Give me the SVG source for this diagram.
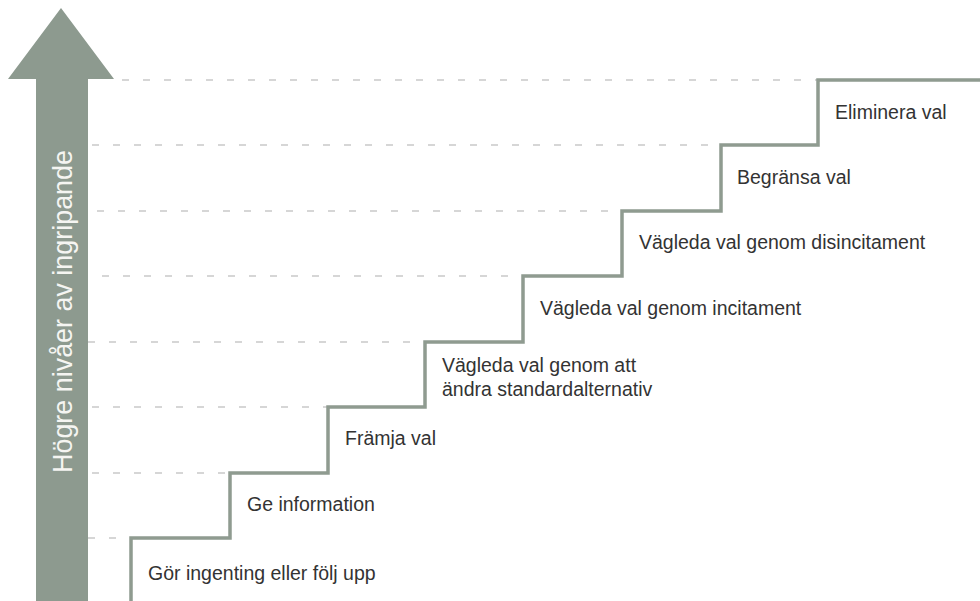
<svg xmlns="http://www.w3.org/2000/svg" width="980" height="601" viewBox="0 0 980 601">
  <style>
    .lbl { font-family: "Liberation Sans", Arial, sans-serif; font-size: 19.5px; fill: #333333; }
    .axis { font-family: "Liberation Sans", Arial, sans-serif; font-size: 27px; fill: #f5f5f2; }
    .dash { stroke: #c9c9c9; stroke-width: 1.5; stroke-dasharray: 7 14; fill: none; }
    .stair { stroke: #8f9b90; stroke-width: 3.5; fill: none; stroke-linejoin: miter; }
  </style>
  <rect width="980" height="601" fill="#ffffff"/>
  <g id="connectors">
    <line class="dash" x1="88" y1="538" x2="131" y2="538"/>
    <line class="dash" x1="92" y1="473" x2="230" y2="473"/>
    <line class="dash" x1="92" y1="407" x2="328" y2="407"/>
    <line class="dash" x1="88" y1="342" x2="425" y2="342"/>
    <line class="dash" x1="102" y1="276" x2="523" y2="276"/>
    <line class="dash" x1="97" y1="211" x2="622" y2="211"/>
    <line class="dash" x1="92" y1="145" x2="721" y2="145"/>
    <line class="dash" x1="122" y1="80" x2="818" y2="80"/>
    <polyline class="stair" points="131,601 131,538 230,538 230,473 328,473 328,407 425,407 425,342 523,342 523,276 622,276 622,211 721,211 721,145 818,145 818,80 980,80"/>
  </g>
  <g id="arrow">
    <polygon points="61,8 114,79 88,79 88,601 36,601 36,79 8,79" fill="#8d9a8f"/>
    <text class="axis" transform="translate(72,311.5) rotate(-90)" text-anchor="middle" textLength="323" lengthAdjust="spacingAndGlyphs">Högre nivåer av ingripande</text>
  </g>
  <g id="step1"><text class="lbl" x="148" y="580">Gör ingenting eller följ upp</text></g>
  <g id="step2"><text class="lbl" x="247" y="511">Ge information</text></g>
  <g id="step3"><text class="lbl" x="345" y="445">Främja val</text></g>
  <g id="step4"><text class="lbl" x="442" y="372">Vägleda val genom att</text><text class="lbl" x="442" y="396">ändra standardalternativ</text></g>
  <g id="step5"><text class="lbl" x="540" y="315">Vägleda val genom incitament</text></g>
  <g id="step6"><text class="lbl" x="639" y="249">Vägleda val genom disincitament</text></g>
  <g id="step7"><text class="lbl" x="737" y="184">Begränsa val</text></g>
  <g id="step8"><text class="lbl" x="835" y="119">Eliminera val</text></g>
</svg>
